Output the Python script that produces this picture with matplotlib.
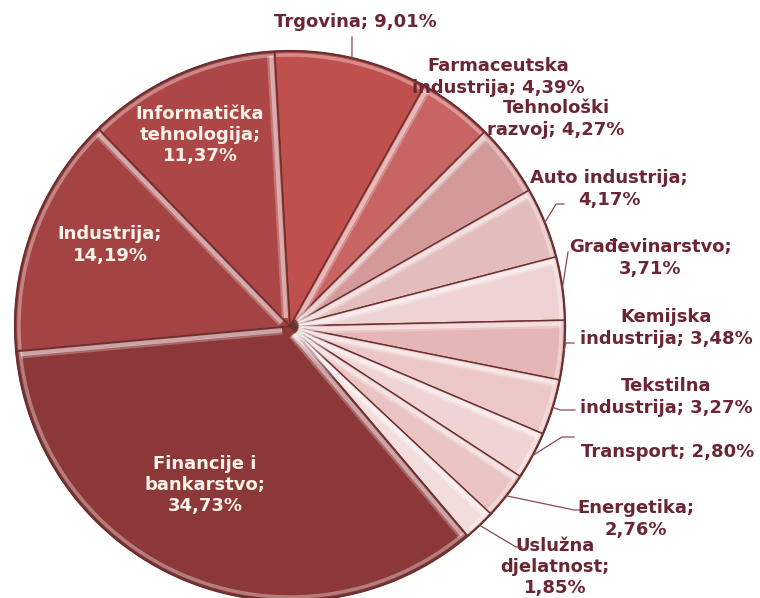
import numpy as np
import matplotlib.pyplot as plt

# data, clockwise from the top
sectors = ["Trgovina", "Farmaceutska industrija", "Tehnološki razvoj", "Auto industrija",
           "Građevinarstvo", "Kemijska industrija", "Tekstilna industrija", "Transport",
           "Energetika", "Uslužna djelatnost", "Financije i bankarstvo", "Industrija",
           "Informatička tehnologija"]
shares = [9.01, 4.39, 4.27, 4.17, 3.71, 3.48, 3.27, 2.80, 2.76, 1.85, 34.73, 14.19, 11.37]

# how each label is broken into lines
label_names = ["Trgovina", "Farmaceutska\nindustrija", "Tehnološki\nrazvoj", "Auto industrija",
               "Građevinarstvo", "Kemijska\nindustrija", "Tekstilna\nindustrija", "Transport",
               "Energetika", "Uslužna\ndjelatnost", "Financije i\nbankarstvo", "Industrija",
               "Informatička\ntehnologija"]
label_seps = ["; ", "; ", "; ", ";\n", ";\n", "; ", "; ", "; ", ";\n", ";\n", ";\n", ";\n", ";\n"]

colors = ["#c0504d", "#c96464", "#d49a9a", "#e3bcbc", "#efd3d3", "#e6b5b5", "#ecc7c7",
          "#f0d4d4", "#eac3c3", "#f3dcdc", "#8d3838", "#a44343", "#ad4747"]

W, H = 760, 598
fig = plt.figure(figsize=(W / 100, H / 100), dpi=100)
ax = fig.add_axes([0, 0, 1, 1])

cx, cy, r = 290, H - 326, 275
wedges, _ = ax.pie(shares, colors=colors, startangle=93.2, counterclock=False,
                   center=(cx, cy), radius=r, frame=True,
                   wedgeprops=dict(edgecolor="#6a3030", linewidth=1.0))
ax.set_xlim(0, W)
ax.set_ylim(0, H)
ax.set_aspect("equal")
ax.axis("off")


def unit(deg):
    a = np.deg2rad(deg)
    return np.array([np.cos(a), np.sin(a)])


# bevel look: light strip under each dividing line and inside the rim
for w in wedges:
    t1, t2 = w.theta1, w.theta2
    for phi, into in ((t2, -90), (t1, 90)):
        u = unit(phi)
        if (into == -90 and u[0] > 0) or (into == 90 and u[0] <= 0):
            n = unit(phi + into)
            s = np.array([r * 0.03, r * 0.985])
            for d, lw, al in ((3.5, 3.0, 0.55), (6.5, 2.0, 0.25)):
                pts = np.array([cx, cy]) + np.outer(s, u) + d * n
                ax.plot(pts[:, 0], pts[:, 1], color="white", lw=lw, alpha=al,
                        solid_capstyle="butt", zorder=3)
    th = np.linspace(np.deg2rad(t1 + 0.6), np.deg2rad(t2 - 0.6), 60)
    ax.plot(cx + (r - 4) * np.cos(th), cy + (r - 4) * np.sin(th), color="white",
            lw=2.5, alpha=0.35, zorder=3)

th = np.linspace(0, 2 * np.pi, 400)
ax.plot(cx + r * np.cos(th), cy + r * np.sin(th), color="#6a3030", lw=1.6, zorder=4)

# label centres (image pixels) and leader-line bends
label_pos = [(355, 22), (498, 77), (556, 119), (609, 189), (650, 258), (666, 328),
             (666, 397), (668, 452), (636, 519), (555, 567), (205, 485), (110, 245),
             (200, 135)]
leaders = {0: [(352, 37)], 3: [(556, 204), (564, 204)], 4: [(568, 252)],
           5: [(566, 343), (574, 343)], 6: [(560, 410), (575, 410)],
           7: [(562, 437), (574, 437)], 8: [(574, 510), (582, 510)],
           9: [(516, 547), (522, 547)]}
inside = {10, 11, 12}

for i, w in enumerate(wedges):
    txt = (label_names[i] + label_seps[i] + f"{shares[i]:.2f}%").replace(".", ",")
    x, y = label_pos[i]
    col = "#fbf3ea" if i in inside else "#6b2633"
    ax.text(x, H - y, txt, ha="center", va="center", fontsize=13, fontweight="bold",
            color=col, family="DejaVu Sans", linespacing=1.22, zorder=6)
    if i in leaders:
        mid = (w.theta1 + w.theta2) / 2
        p0 = np.array([cx, cy]) + r * unit(mid)
        pts = [p0] + [np.array([px, H - py]) for px, py in leaders[i]]
        pts = np.array(pts)
        ax.plot(pts[:, 0], pts[:, 1], color="#8a4a4f", lw=0.9, zorder=5)

fig.savefig("out.png", dpi=100)
